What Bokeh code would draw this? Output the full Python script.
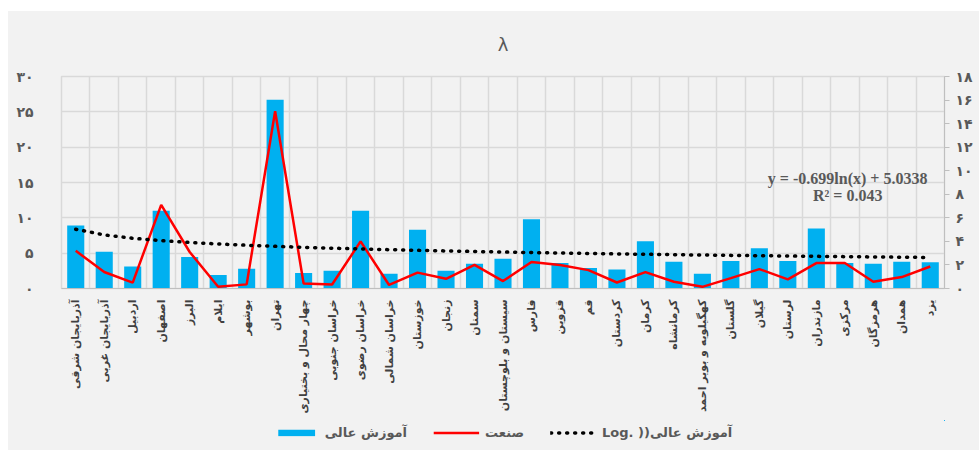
import math
from bokeh.plotting import figure
from bokeh.layouts import column, row
from bokeh.models import (Range1d, LinearAxis, FixedTicker, ColumnDataSource,
                          Legend, LegendItem, Label, Spacer)
from bokeh.embed import file_html
from bokeh.resources import INLINE

TITLE = "λ"
PROVINCES = [
    "آذربایجان شرقی", "آذربایجان غربی", "اردبیل", "اصفهان", "البرز", "ایلام",
    "بوشهر", "تهران", "چهار محال و بختیاری", "خراسان جنوبی", "خراسان رضوی",
    "خراسان شمالی", "خوزستان", "زنجان", "سمنان", "سیستان و بلوچستان", "فارس",
    "قزوین", "قم", "کردستان", "کرمان", "کرمانشاه", "کهگیلویه و بویر احمد",
    "گلستان", "گیلان", "لرستان", "مازندران", "مرکزی", "هرمزگان", "همدان", "یزد",
]
HIGHER_EDU = [8.9, 5.2, 3.1, 11.0, 4.45, 1.9, 2.8, 26.7, 2.2, 2.5, 11.0, 2.1,
              8.3, 2.5, 3.5, 4.2, 9.8, 3.6, 2.9, 2.7, 6.7, 3.8, 2.1, 3.9, 5.7,
              3.9, 8.5, 3.6, 3.5, 3.8, 3.7]
INDUSTRY = [3.2, 1.4, 0.5, 7.1, 3.1, 0.15, 0.35, 15.05, 0.43, 0.34, 4.0, 0.3,
            1.35, 0.82, 2.0, 0.63, 2.25, 2.0, 1.56, 0.51, 1.39, 0.57, 0.14,
            0.88, 1.65, 0.77, 2.16, 2.16, 0.57, 0.97, 1.87]
# Trendline shown on the chart: y = -0.699 ln(x) + 5.0338
TREND_SLOPE = -0.699
TREND_INTERCEPT = 5.0338
LEFT_TICKS = [0, 5, 10, 15, 20, 25, 30]
LEFT_TICK_LABELS = ["۰", "۵", "۱۰", "۱۵", "۲۰", "۲۵", "۳۰"]
RIGHT_TICKS = [0, 2, 4, 6, 8, 10, 12, 14, 16, 18]
RIGHT_TICK_LABELS = ["۰", "۲", "۴", "۶", "۸", "۱۰", "۱۲", "۱۴", "۱۶", "۱۸"]
SERIES_NAMES = ["آموزش عالی", "صنعت", "Log. ))آموزش عالی"]
EQUATION = "y = -0.699ln(x) + 5.0338"
R_SQUARED = "R² = 0.043"

idx = list(range(1, len(PROVINCES) + 1))
trend = [TREND_SLOPE * math.log(i) + TREND_INTERCEPT for i in idx]
src = ColumnDataSource(dict(x=idx, edu=HIGHER_EDU, ind=INDUSTRY, trend=trend))

BG = "#f2f2f2"
GRID = "#d9d9d9"
TXT = "#595959"
BAR_COLOR = "#00b0f0"
LINE_COLOR = "#ff0000"
BAR_STYLE = dict(fill_color=BAR_COLOR, line_color=None)
IND_STYLE = dict(line_color=LINE_COLOR, line_width=2.5)
TREND_STYLE = dict(line_color="black", line_width=3.5, line_dash="1 7",
                   line_cap="round")

fig = figure(width=971, height=409, x_range=Range1d(0.5, len(PROVINCES) + 0.5),
             y_range=Range1d(LEFT_TICKS[0], LEFT_TICKS[-1]),
             output_backend="svg", toolbar_location=None, title=TITLE,
             min_border_left=53, min_border_right=35, min_border_top=65,
             min_border_bottom=132, background_fill_color=BG,
             border_fill_color=BG, outline_line_color=GRID)
fig.outline_line_width = 1.5

fig.title.text_font = "DejaVu Sans"
fig.title.text_font_size = "18px"
fig.title.text_font_style = "normal"
fig.title.text_color = TXT
fig.title.align = "center"
fig.title.vertical_align = "middle"
fig.title.standoff = 42

fig.extra_y_ranges = {"right": Range1d(RIGHT_TICKS[0], RIGHT_TICKS[-1])}

# x axis
xa = fig.xaxis[0]
xa.ticker = FixedTicker(ticks=idx)
xa.major_label_overrides = {i: n for i, n in zip(idx, PROVINCES)}
xa.major_label_orientation = math.pi / 2
xa.major_tick_line_color = None
xa.minor_tick_line_color = None
xa.axis_line_color = "#bfbfbf"
xa.axis_line_width = 1
xa.major_label_standoff = 5
xa.major_label_text_font = "DejaVu Sans"
xa.major_label_text_font_style = "bold"
xa.major_label_text_font_size = "11px"
xa.major_label_text_color = "#404040"

# left y axis
ya = fig.yaxis[0]
ya.ticker = FixedTicker(ticks=LEFT_TICKS)
ya.major_label_overrides = {t: l for t, l in zip(LEFT_TICKS, LEFT_TICK_LABELS)}
ya.axis_line_color = None
ya.major_tick_line_color = None
ya.minor_tick_line_color = None
ya.major_label_standoff = 22
ya.major_label_text_font = "DejaVu Sans"
ya.major_label_text_font_style = "bold"
ya.major_label_text_font_size = "14px"
ya.major_label_text_color = TXT

# right y axis
ra = LinearAxis(y_range_name="right", ticker=FixedTicker(ticks=RIGHT_TICKS))
ra.major_label_overrides = {t: l for t, l in zip(RIGHT_TICKS, RIGHT_TICK_LABELS)}
ra.axis_line_color = "#bfbfbf"
ra.major_tick_line_color = "#bfbfbf"
ra.major_tick_in = 0
ra.major_tick_out = 5
ra.minor_tick_line_color = None
ra.major_label_standoff = 6
ra.major_label_text_font = "DejaVu Sans"
ra.major_label_text_font_style = "bold"
ra.major_label_text_font_size = "14px"
ra.major_label_text_color = TXT
fig.add_layout(ra, "right")

# grids
fig.xgrid.ticker = FixedTicker(ticks=[i + 0.5 for i in range(len(PROVINCES) + 1)])
fig.xgrid.grid_line_color = GRID
fig.xgrid.grid_line_width = 1.5
fig.ygrid.grid_line_color = GRID
fig.ygrid.grid_line_width = 1.5

fig.vbar(x="x", top="edu", width=0.6, source=src, **BAR_STYLE)
fig.line(x="x", y="ind", source=src, y_range_name="right", **IND_STYLE)
fig.line(x="x", y="trend", source=src, y_range_name="right", **TREND_STYLE)

for text, yv in [(EQUATION, 15.6), (R_SQUARED, 13.2)]:
    fig.add_layout(Label(x=28.1, y=yv, text=text, text_align="center",
                         text_baseline="middle", text_font="Liberation Serif",
                         text_font_style="bold", text_font_size="16px",
                         text_color=TXT))

# legend strip below the chart: the same three series, drawn outside its view
leg_fig = figure(width=971, height=30, x_range=Range1d(-3, -2),
                 y_range=Range1d(-100, -99), output_backend="svg",
                 toolbar_location=None, min_border_left=53,
                 min_border_right=35, min_border_top=0, min_border_bottom=6,
                 background_fill_color=BG, border_fill_color=BG,
                 outline_line_color=None)
leg_fig.axis.visible = False
leg_fig.grid.visible = False
r1 = leg_fig.vbar(x="x", top="edu", width=0.6, source=src, **BAR_STYLE)
r2 = leg_fig.line(x="x", y="ind", source=src, **IND_STYLE)
r3 = leg_fig.line(x="x", y="trend", source=src, **TREND_STYLE)
legend = Legend(items=[
    LegendItem(label=SERIES_NAMES[0], renderers=[r1]),
    LegendItem(label=SERIES_NAMES[1], renderers=[r2]),
    LegendItem(label=SERIES_NAMES[2], renderers=[r3]),
], orientation="horizontal", location="center", glyph_width=46,
    glyph_height=8, label_standoff=6, spacing=26, padding=0, margin=0,
    background_fill_alpha=0, border_line_color=None,
    label_text_font="DejaVu Sans", label_text_font_style="bold",
    label_text_font_size="13px", label_text_color=TXT)
leg_fig.add_layout(legend, "center")

chart = column(fig, leg_fig, styles={"background-color": BG})
p = column(Spacer(height=11), row(Spacer(width=8), chart))

open("out.html", "w").write(file_html(p, INLINE))
